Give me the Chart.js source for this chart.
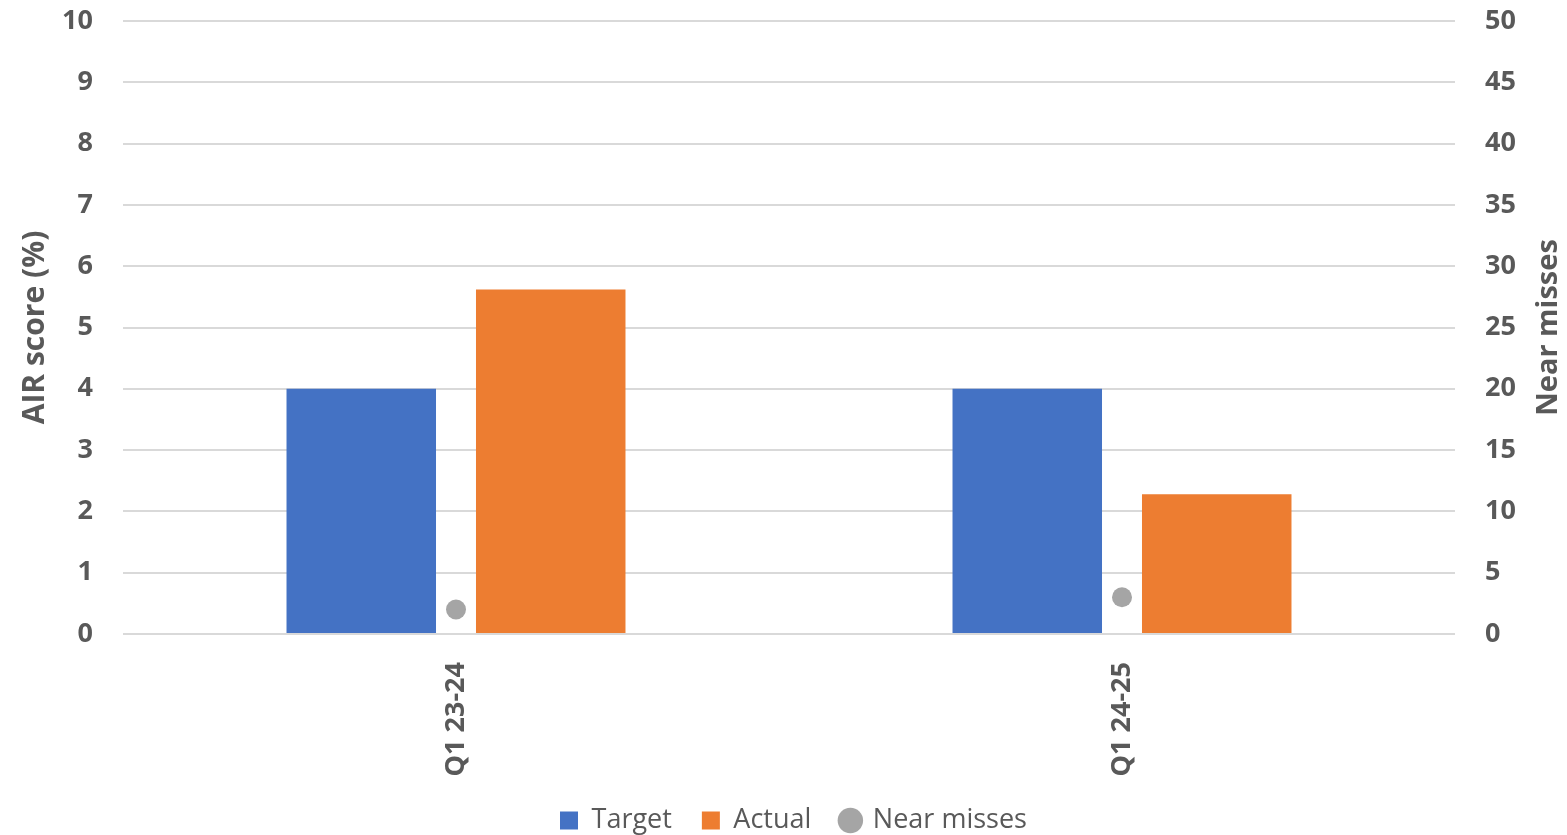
<!DOCTYPE html>
<html>
<head>
<meta charset="utf-8">
<title>AIR score and near misses</title>
<script src="https://cdn.jsdelivr.net/npm/chart.js@4.4.1/dist/chart.umd.min.js"></script>
<style>
  html, body { margin: 0; padding: 0; background: #fff; }
  #wrap { width: 1567px; height: 835px; position: relative; }
</style>
</head>
<body>
<div id="wrap"><canvas id="chart"></canvas></div>
<script>
// quarters and values
var quarters = ['Q1 23-24', 'Q1 24-25'];
var target = [4, 4];
var actual = [5.62, 2.28];
var nearMisses = [2, 3];

var leftTicks = [0, 1, 2, 3, 4, 5, 6, 7, 8, 9, 10];
var rightTicks = [0, 5, 10, 15, 20, 25, 30, 35, 40, 45, 50];

var grey = '#595959';
var fontFamily = '"Open Sans", "Noto Sans", sans-serif';

// right axis title reads bottom-to-top, so draw it here instead of scale.title
var rightTitle = {
    id: 'rightTitle',
    afterDraw: function(chart) {
        var ctx = chart.ctx;
        var area = chart.chartArea;
        ctx.save();
        ctx.translate(1549, (area.top + area.bottom) / 2);
        ctx.rotate(-Math.PI / 2);
        ctx.fillStyle = grey;
        ctx.font = 'bold 29px ' + fontFamily;
        ctx.textAlign = 'center';
        ctx.textBaseline = 'middle';
        ctx.fillText('Near misses', 0, 0);
        ctx.restore();
    }
};

// keep wide gaps between legend items but a short legend box,
// and nudge it a little right of centre
var legendBox = {
    id: 'legendBox',
    afterInit: function(chart) {
        var legend = chart.legend;
        var fit = legend.fit;
        var draw = legend.draw;
        legend.fit = function() {
            fit.call(this);
            this.height = 58;
        };
        legend.draw = function() {
            var ctx = this.ctx;
            ctx.save();
            ctx.translate(10, 0);
            draw.call(this);
            ctx.restore();
        };
    }
};

// tick labels may overhang the plot area at top and bottom
function noEdgePadding(scale) {
    scale.paddingTop = 0;
    scale.paddingBottom = 0;
}

var config = {
    data: {
        labels: quarters,
        datasets: [{
            type: 'bar',
            label: 'Target',
            data: target,
            backgroundColor: '#4472C4',
            yAxisID: 'y',
            pointStyle: 'rect'
        }, {
            type: 'bar',
            label: 'Actual',
            data: actual,
            backgroundColor: '#ED7D31',
            yAxisID: 'y',
            pointStyle: 'rect'
        }, {
            type: 'line',
            label: 'Near misses',
            data: nearMisses,
            showLine: false,
            yAxisID: 'y2',
            pointStyle: 'circle',
            pointRadius: 10,
            pointHoverRadius: 10,
            backgroundColor: '#A5A5A5',
            borderColor: '#A5A5A5',
            borderWidth: 0
        }]
    },
    options: {
        responsive: true,
        maintainAspectRatio: false,
        animation: false,
        layout: { padding: { top: 21, bottom: 0, left: 0, right: 0 } },
        datasets: {
            bar: { categoryPercentage: 0.569, barPercentage: 0.789 }
        },
        plugins: {
            tooltip: { enabled: false },
            legend: {
                position: 'bottom',
                labels: {
                    usePointStyle: true,
                    boxWidth: 18,
                    boxHeight: 18,
                    padding: 30,
                    color: grey,
                    font: { family: fontFamily, size: 27 },
                    sort: function(a, b) { return a.datasetIndex - b.datasetIndex; }
                }
            }
        },
        scales: {
            x: {
                grid: { display: false },
                border: { display: false },
                ticks: {
                    minRotation: 90,
                    maxRotation: 90,
                    padding: 20,
                    color: grey,
                    font: { family: fontFamily, size: 27, weight: 'bold' }
                },
                afterFit: function(scale) { scale.height = 143; }
            },
            y: {
                position: 'left',
                min: 0,
                max: 10,
                afterBuildTicks: function(scale) {
                    scale.ticks = leftTicks.map(function(v) { return { value: v }; });
                },
                grid: { color: '#D9D9D9', lineWidth: 2, drawTicks: false },
                border: { display: false },
                ticks: {
                    padding: 30,
                    color: grey,
                    font: { family: fontFamily, size: 27, weight: 'bold' }
                },
                title: {
                    display: true,
                    text: 'AIR score (%)',
                    color: grey,
                    padding: { top: 17, bottom: 0 },
                    font: { family: fontFamily, size: 30, weight: 'bold' }
                },
                afterFit: function(scale) {
                    scale.width = 123;
                    noEdgePadding(scale);
                }
            },
            y2: {
                position: 'right',
                min: 0,
                max: 50,
                afterBuildTicks: function(scale) {
                    scale.ticks = rightTicks.map(function(v) { return { value: v }; });
                },
                grid: { display: false, drawTicks: false },
                border: { display: false },
                ticks: {
                    padding: 30,
                    color: grey,
                    font: { family: fontFamily, size: 27, weight: 'bold' }
                },
                afterFit: function(scale) {
                    scale.width = 112;
                    noEdgePadding(scale);
                }
            }
        }
    },
    plugins: [rightTitle, legendBox]
};

window.onload = function() {
    window.airChart = new Chart(document.getElementById('chart'), config);
};
</script>
</body>
</html>
